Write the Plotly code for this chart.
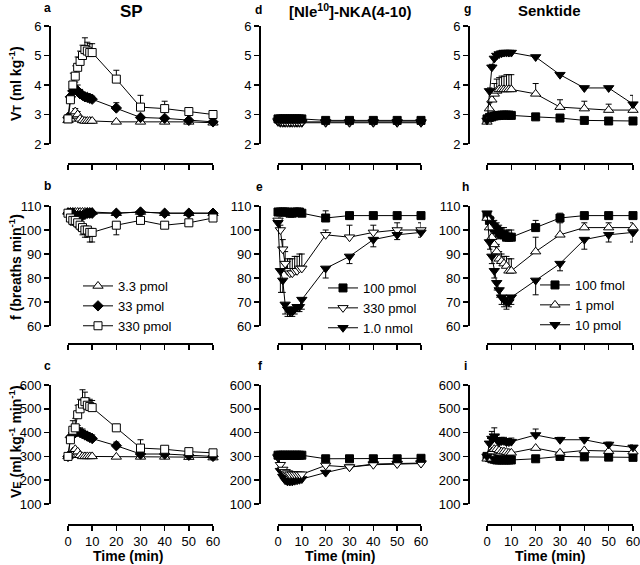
import plotly.graph_objects as go

W, H = 640, 565

# ---------------- data ----------------
times = [0, 1, 2, 3, 4, 5, 6, 7, 8, 9, 10, 20, 30, 40, 50, 60]
x_ticks = [0, 10, 20, 30, 40, 50, 60]

# SP
a_3_3 = [2.8, 2.85, 2.95, 3.1, 3.0, 2.85, 2.8, 2.78, 2.78, 2.78, 2.78, 2.75, 2.75, 2.75, 2.75, 2.72]
a_3_3_err = [0.05, 0.05, 0.1, 0.1, 0.1, 0.05, 0.05, 0.05, 0.05, 0.05, 0.05, 0.05, 0.05, 0.05, 0.05, 0.05]
a_33 = [2.9, 3.6, 3.8, 3.85, 3.8, 3.7, 3.65, 3.6, 3.58, 3.55, 3.52, 3.22, 2.9, 2.87, 2.8, 2.75]
a_33_err = [0.05, 0.2, 0.25, 0.25, 0.2, 0.15, 0.1, 0.1, 0.1, 0.1, 0.1, 0.18, 0.05, 0.05, 0.05, 0.05]
a_330 = [2.85, 3.5, 4.0, 4.3, 4.6, 4.8, 5.0, 5.2, 5.15, 5.1, 5.1, 4.2, 3.25, 3.2, 3.1, 3.0]
a_330_err = [0.05, 0.3, 0.4, 0.35, 0.35, 0.35, 0.35, 0.4, 0.3, 0.3, 0.3, 0.3, 0.4, 0.25, 0.1, 0.1]

b_3_3 = [107.5, 107.5, 107.5, 107.5, 107.5, 107.5, 107.5, 107.5, 107.5, 107.5, 107.5, 107, 107.5, 107, 107, 107]
b_33 = [107, 107, 107, 106, 106, 106, 106, 106.5, 107, 107, 107, 107, 107.5, 107, 107, 107]
b_330 = [107, 105, 104, 104, 103, 102, 101, 100, 100, 99, 99, 102, 104, 102, 103, 105]
b_330_err = [1, 2, 2, 2, 2, 2, 3, 3, 3, 4, 4, 4, 1, 1, 1, 1]

c_3_3 = [300, 305, 320, 330, 320, 305, 300, 300, 300, 300, 300, 298, 298, 298, 297, 295]
c_33 = [300, 380, 390, 400, 405, 400, 395, 390, 385, 380, 375, 345, 310, 310, 305, 300]
c_33_err = [5, 20, 25, 25, 25, 20, 20, 15, 15, 15, 15, 15, 10, 10, 5, 5]
c_330 = [300, 370, 410, 420, 475, 500, 520, 530, 515, 510, 505, 420, 335, 330, 320, 315]
c_330_err = [5, 20, 40, 40, 40, 40, 60, 40, 30, 30, 30, 15, 35, 10, 5, 5]

# [Nle10]-NKA(4-10)
d_100 = [2.85, 2.85, 2.85, 2.85, 2.85, 2.85, 2.85, 2.85, 2.85, 2.85, 2.85, 2.8, 2.8, 2.8, 2.8, 2.8]
d_330 = [2.8, 2.78, 2.75, 2.75, 2.75, 2.75, 2.75, 2.75, 2.75, 2.75, 2.75, 2.75, 2.75, 2.75, 2.75, 2.75]
d_1000 = [2.75, 2.72, 2.72, 2.72, 2.72, 2.72, 2.72, 2.72, 2.72, 2.72, 2.72, 2.72, 2.72, 2.72, 2.72, 2.72]

e_100 = [107.5, 107.5, 107.5, 107.5, 107.5, 107, 107, 107.5, 107.5, 107.5, 107, 105, 106, 106, 106, 106]
e_100_err = [1, 1, 1, 1, 1, 1, 1, 1, 1, 1, 1, 3, 1, 1, 1, 1]
e_330 = [104, 100, 92, 86, 83, 82, 82, 83, 83, 84, 84, 98, 97, 99, 100, 100]
e_330_err = [1, 2, 4, 5, 5, 6, 6, 6, 6, 6, 6, 2, 5, 3, 3, 3]
e_1000 = [103, 83, 79, 69, 67, 66, 66, 67, 68, 68, 71, 84, 89, 96, 98, 99]
e_1000_err = [2, 9, 5, 4, 3, 2, 2, 2, 2, 2, 4, 4, 3, 3, 2, 2]

f_100 = [305, 305, 305, 305, 305, 305, 305, 305, 305, 305, 305, 290, 290, 290, 290, 292]
f_330 = [300, 265, 245, 235, 230, 225, 225, 225, 225, 225, 225, 262, 255, 265, 268, 270]
f_1000 = [295, 240, 215, 200, 195, 195, 195, 198, 200, 202, 205, 232, 255, 268, 270, 272]

# Senktide
g_100f = [2.85, 2.9, 2.92, 2.95, 2.96, 2.97, 2.98, 2.98, 2.98, 2.98, 2.97, 2.92, 2.88, 2.8, 2.78, 2.78]
g_1p = [2.75, 3.2, 3.5, 3.7, 3.8, 3.85, 3.85, 3.85, 3.85, 3.85, 3.85, 3.7, 3.25, 3.2, 3.15, 3.15]
g_1p_err = [0.05, 0.2, 0.3, 0.35, 0.4, 0.4, 0.45, 0.45, 0.5, 0.5, 0.5, 0.35, 0.25, 0.25, 0.2, 0.15]
g_10p = [2.8, 3.8, 4.6, 4.9, 5.0, 5.05, 5.08, 5.1, 5.1, 5.1, 5.1, 4.95, 4.35, 3.9, 3.9, 3.35]
g_10p_err = [0.05, 0.1, 0.1, 0.05, 0.05, 0.05, 0.05, 0.05, 0.05, 0.05, 0.05, 0.05, 0.05, 0.05, 0.05, 0.3]

h_100f = [106, 104, 102, 101, 100, 99, 98, 98, 97, 97, 97, 101, 105, 106, 106, 106]
h_100f_err = [1, 2, 3, 3, 3, 3, 3, 3, 3, 3, 3, 3, 2, 1, 1, 1]
h_1p = [105, 101, 97, 94, 91, 88, 87, 86, 85, 83, 83, 91, 98, 101, 101, 101]
h_1p_err = [1, 3, 3, 3, 3, 3, 3, 3, 4, 5, 5, 6, 5, 2, 2, 2]
h_10p = [107, 95, 89, 83, 78, 75, 72, 71, 70, 70, 72, 79, 86, 96, 98, 99]
h_10p_err = [1, 3, 3, 3, 3, 3, 3, 3, 3, 2, 3, 6, 3, 4, 3, 4]

i_100f = [300, 295, 290, 288, 285, 285, 285, 285, 285, 285, 285, 290, 300, 298, 297, 296]
i_1p = [290, 310, 320, 330, 330, 325, 320, 320, 318, 315, 315, 335, 315, 325, 322, 320]
i_10p = [300, 355, 375, 385, 370, 360, 365, 365, 360, 360, 362, 390, 370, 370, 350, 338]
i_10p_err = [5, 20, 30, 35, 20, 15, 15, 15, 15, 15, 15, 25, 10, 10, 10, 10]

# ---------------- layout geometry (pixels) ----------------
col_yaxis_px = [49, 259, 468]
col_xdom_px = [(68, 213), (278, 421), (487, 633)]
row_ydom_px = [(26, 144), (206, 326), (385, 504)]
row_xaxis_px = [163, 343, 524]
row_ranges = [[2, 6], [60, 110], [100, 600]]
row_dticks = [1, 10, 100]

FONT = "Liberation Sans, Arial, sans-serif"
fig = go.Figure()

def ax_id(r, c):
    return r * 3 + c + 1

for r in range(3):
    for c in range(3):
        i = ax_id(r, c)
        sfx = "" if i == 1 else str(i)
        x0, x1 = col_xdom_px[c]
        yt, yb = row_ydom_px[r]
        fig.layout["xaxis" + sfx] = dict(
            domain=[x0 / W, x1 / W], range=[0, 60], anchor="free",
            position=1 - row_xaxis_px[r] / H, tickmode="array", tickvals=x_ticks,
            showticklabels=(r == 2), ticks="outside", ticklen=5, tickwidth=1.5,
            tickcolor="black", showline=True, linecolor="black", linewidth=1.5,
            showgrid=False, zeroline=False, automargin=False, fixedrange=True,
            ticklabeloverflow="allow",
            tickfont=dict(family=FONT, size=13, color="black"),
        )
        fig.layout["yaxis" + sfx] = dict(
            domain=[1 - yb / H, 1 - yt / H], range=row_ranges[r], anchor="free",
            position=col_yaxis_px[c] / W, dtick=row_dticks[r], tick0=row_ranges[r][0],
            ticks="outside", ticklen=5, tickwidth=1.5, tickcolor="black",
            showline=True, linecolor="black", linewidth=1.5, showgrid=False,
            zeroline=False, automargin=False, fixedrange=True,
            ticklabeloverflow="allow",
            tickfont=dict(family=FONT, size=13, color="black"),
        )

STY = {
    "tri_open": dict(symbol="triangle-up", size=9, color="white", line=dict(color="black", width=1)),
    "dia_fill": dict(symbol="diamond", size=8, color="black", line=dict(color="black", width=1)),
    "sq_open": dict(symbol="square", size=8, color="white", line=dict(color="black", width=1)),
    "sq_fill": dict(symbol="square", size=8, color="black", line=dict(color="black", width=1)),
    "tdn_open": dict(symbol="triangle-down", size=9, color="white", line=dict(color="black", width=1)),
    "tdn_fill": dict(symbol="triangle-down", size=9, color="black", line=dict(color="black", width=1)),
}

def add(r, c, y, name, sty, err=None, down=False, legend=None):
    i = ax_id(r, c)
    sfx = "" if i == 1 else str(i)
    e = None
    if err is not None:
        zeros = [0] * len(err)
        e = dict(type="data", symmetric=False,
                 array=zeros if down else err,
                 arrayminus=err if down else zeros,
                 color="black", thickness=1, width=3)
    fig.add_trace(go.Scatter(
        x=times, y=y, name=name, mode="lines+markers",
        line=dict(color="black", width=1), marker=STY[sty], error_y=e,
        xaxis="x" + sfx, yaxis="y" + sfx, cliponaxis=False,
        showlegend=legend is not None, legend=legend or "legend",
    ))

# SP column
add(0, 0, a_3_3, "3.3 pmol", "tri_open", a_3_3_err)
add(0, 0, a_33, "33 pmol", "dia_fill", a_33_err)
add(0, 0, a_330, "330 pmol", "sq_open", a_330_err)
add(1, 0, b_3_3, "3.3 pmol", "tri_open", legend="legend")
add(1, 0, b_33, "33 pmol", "dia_fill", legend="legend")
add(1, 0, b_330, "330 pmol", "sq_open", b_330_err, down=True, legend="legend")
add(2, 0, c_3_3, "3.3 pmol", "tri_open")
add(2, 0, c_33, "33 pmol", "dia_fill", c_33_err)
add(2, 0, c_330, "330 pmol", "sq_open", c_330_err)

# NKA column
add(0, 1, d_1000, "1.0 nmol", "tdn_fill")
add(0, 1, d_330, "330 pmol", "tdn_open")
add(0, 1, d_100, "100 pmol", "sq_fill")
add(1, 1, e_100, "100 pmol", "sq_fill", e_100_err, legend="legend2")
add(1, 1, e_330, "330 pmol", "tdn_open", e_330_err, legend="legend2")
add(1, 1, e_1000, "1.0 nmol", "tdn_fill", e_1000_err, down=True, legend="legend2")
add(2, 1, f_1000, "1.0 nmol", "tdn_fill")
add(2, 1, f_330, "330 pmol", "tdn_open")
add(2, 1, f_100, "100 pmol", "sq_fill")

# Senktide column
add(0, 2, g_100f, "100 fmol", "sq_fill")
add(0, 2, g_1p, "1 pmol", "tri_open", g_1p_err)
add(0, 2, g_10p, "10 pmol", "tdn_fill", g_10p_err)
add(1, 2, h_100f, "100 fmol", "sq_fill", h_100f_err, legend="legend3")
add(1, 2, h_1p, "1 pmol", "tri_open", h_1p_err, legend="legend3")
add(1, 2, h_10p, "10 pmol", "tdn_fill", h_10p_err, down=True, legend="legend3")
add(2, 2, i_100f, "100 fmol", "sq_fill")
add(2, 2, i_1p, "1 pmol", "tri_open")
add(2, 2, i_10p, "10 pmol", "tdn_fill", i_10p_err)

leg_common = dict(font=dict(family=FONT, size=13, color="black"), bgcolor="rgba(0,0,0,0)",
                  xanchor="left", yanchor="top", tracegroupgap=0, itemwidth=30,
                  traceorder="normal")
fig.layout.legend = dict(x=78 / W, y=1 - 271 / H, **leg_common)
fig.layout.legend2 = dict(x=323 / W, y=1 - 273 / H, **leg_common)
fig.layout.legend3 = dict(x=535 / W, y=1 - 270 / H, **leg_common)

def ann(text, xpx, ypx, size, bold=True, angle=0):
    fig.add_annotation(
        text=("<b>%s</b>" % text) if bold else text, x=xpx / W, y=1 - ypx / H,
        xref="paper", yref="paper", showarrow=False, textangle=angle,
        xanchor="center", yanchor="middle",
        font=dict(family=FONT, size=size, color="black"),
    )

# column titles
ann("SP", 131, 12, 17)
ann("[Nle<sup>10</sup>]-NKA(4-10)", 350, 11, 15)
ann("Senktide", 549, 10, 15)
# panel letters
for txt, xp, yp in [("a", 47, 8), ("b", 47, 186), ("c", 47, 366),
                    ("d", 258, 10), ("e", 259, 187), ("f", 260, 366),
                    ("g", 467, 9), ("h", 465, 187), ("i", 465, 366)]:
    ann(txt, xp, yp, 12)
# y titles
ann("V<span style='font-size:11px'>T</span> (ml kg<sup>-1</sup>)", 15, 84, 14, angle=-90)
ann("f (breaths min<sup>-1</sup>)", 15, 267, 14, angle=-90)
ann("V<span style='font-size:11px'>E</span> (ml kg<sup>-1</sup> min<sup>-1</sup>)", 15, 442, 14, angle=-90)
# x titles
for xc in [128, 340, 550]:
    ann("Time (min)", xc, 556, 14)

fig.update_layout(width=W, height=H, margin=dict(l=0, r=0, t=0, b=0),
                  paper_bgcolor="white", plot_bgcolor="white", showlegend=True)

fig.write_html("out.html", config={"displayModeBar": False, "staticPlot": True},
               post_script="document.body.style.margin='0';document.body.style.overflow='hidden';")
